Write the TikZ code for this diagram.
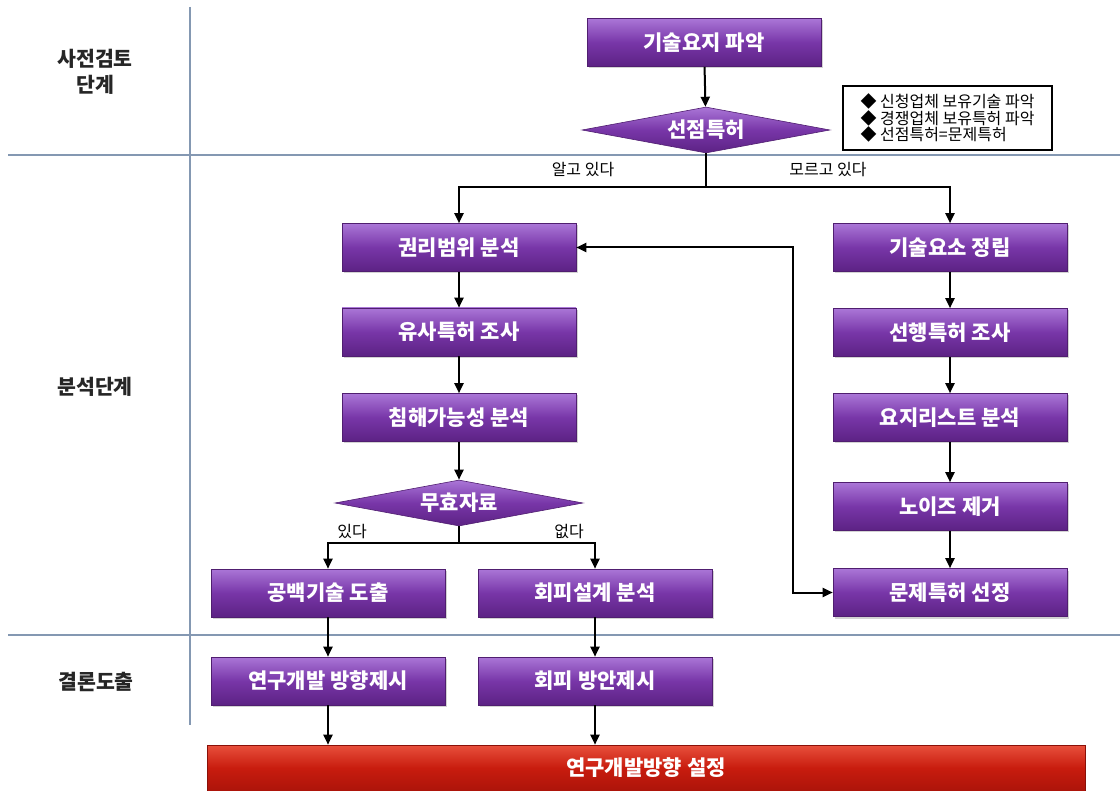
\documentclass[tikz,border=0pt]{standalone}
\usepackage{fontspec}
\setmainfont{Noto Sans CJK KR}
\usetikzlibrary{shapes.geometric,arrows.meta,shadows}
\definecolor{pMid}{RGB}{120,54,168}
\definecolor{pTop}{RGB}{170,118,215}
\definecolor{pBot}{RGB}{92,34,132}
\definecolor{pEdge}{RGB}{80,30,112}
\definecolor{rMid}{RGB}{200,28,14}
\definecolor{rTop}{RGB}{232,80,60}
\definecolor{rBot}{RGB}{172,20,10}
\definecolor{sepline}{RGB}{132,152,178}
\tikzset{
  proc/.style={rectangle, minimum width=234pt, minimum height=48pt, inner sep=0pt,
    top color=pTop, bottom color=pBot, middle color=pMid, draw=pEdge, line width=0.6pt,
    text=white, font=\bfseries\fontsize{21}{21}\selectfont,
    drop shadow={shadow xshift=2pt, shadow yshift=-2pt, opacity=0.35}},
  dec/.style={diamond, minimum width=248pt, minimum height=46pt, inner sep=0pt, aspect=5,
    top color=pTop, bottom color=pBot, middle color=pMid, draw=pEdge, line width=0.6pt,
    text=white, font=\bfseries\fontsize{21}{21}\selectfont},
  conn/.style={line width=2pt, -{Triangle[length=10pt,width=9pt]}},
  plain/.style={line width=2pt},
  sep/.style={draw=sepline, line width=1.3pt},
  lbl/.style={font=\fontsize{16}{16}\selectfont, text=black},
  phase/.style={font=\bfseries\fontsize{20.5}{26}\selectfont, text=black!85, align=center}
}
\begin{document}
\begin{tikzpicture}[x=1pt,y=-1pt]
\useasboundingbox (0,0) rectangle (1120,791);
% separators
\coordinate (sv1) at (190,7);
\coordinate (sv2) at (190,725);
\coordinate (sh1a) at (8,155);
\coordinate (sh1b) at (1120,155);
\coordinate (sh2a) at (8,635);
\coordinate (sh2b) at (1120,635);
\draw[sep] (sv1) -- (sv2);
\draw[sep] (sh1a) -- (sh1b);
\draw[sep] (sh2a) -- (sh2b);
% phase labels
\node[phase] (ph1) at (95,72) {사전검토\\단계};
\node[phase] (ph2) at (95,387) {분석단계};
\node[phase] (ph3) at (96,682) {결론도출};
% top
\node[proc] (n1) at (704,42.5) {기술요지 파악};
\node[dec] (d1) at (706,130) {선점특허};
\node[draw, line width=1.1pt, fill=white, minimum width=209pt, minimum height=64pt, inner sep=0pt,
  align=left, font=\fontsize{16}{14.5}\selectfont] (note) at (947.5,118)
  {◆ 신청업체 보유기술 파악\\◆ 경쟁업체 보유특허 파악\\◆ 선점특허=문제특허};
% left column
\node[proc] (l1) at (459,247.5) {권리범위 분석};
\node[proc] (l2) at (459,332) {유사특허 조사};
\node[proc] (l3) at (459,417.5) {침해가능성 분석};
\node[dec] (d2) at (459,503) {무효자료};
\node[proc] (b1) at (328,593) {공백기술 도출};
\node[proc] (b2) at (595,593) {회피설계 분석};
\node[proc] (c1) at (328,681) {연구개발 방향제시};
\node[proc] (c2) at (595,681) {회피 방안제시};
% right column
\node[proc] (r1) at (950,247.5) {기술요소 정립};
\node[proc] (r2) at (950,332.5) {선행특허 조사};
\node[proc] (r3) at (950,417.5) {요지리스트 분석};
\node[proc] (r4) at (950,506.5) {노이즈 제거};
\node[proc] (r5) at (950,592.5) {문제특허 선정};
% final bar
\node[rectangle, minimum width=878pt, minimum height=46pt, inner sep=0pt,
  top color=rTop, bottom color=rBot, middle color=rMid, draw=rBot!80!black, line width=0.6pt,
  text=white, font=\bfseries\fontsize{21}{21}\selectfont] (fin) at (646,768) {연구개발방향 설정};
% connectors
\draw[conn] (n1) -- (d1);
\coordinate (br1) at (706,187);
\draw[plain] (d1.south) -- (br1);
\draw[conn] (br1) -| (l1.north);
\draw[conn] (br1) -| (r1.north);
\node[lbl] (t1) at (583,170) {알고 있다};
\node[lbl] (t2) at (828,170) {모르고 있다};
\draw[conn] (l1) -- (l2);
\draw[conn] (l2) -- (l3);
\draw[conn] (l3) -- (d2);
\coordinate (br2) at (459,543);
\draw[plain] (d2.south) -- (br2);
\draw[conn] (br2) -| (b1.north);
\draw[conn] (br2) -| (b2.north);
\node[lbl] (t3) at (352,532) {있다};
\node[lbl] (t4) at (569,532) {없다};
\draw[conn] (b1) -- (c1);
\draw[conn] (b2) -- (c2);
\draw[conn] (c1.south) -- (c1.south |- fin.north);
\draw[conn] (c2.south) -- (c2.south |- fin.north);
\draw[conn] (r1) -- (r2);
\draw[conn] (r2) -- (r3);
\draw[conn] (r3) -- (r4);
\draw[conn] (r4) -- (r5);
\coordinate (vx) at (793,0);
\draw[line width=2pt, {Triangle[length=10pt,width=9pt]}-{Triangle[length=10pt,width=9pt]}]
  (l1.east) -- (l1.east -| vx) -- (r5.west -| vx) -- (r5.west);
\end{tikzpicture}
\end{document}
